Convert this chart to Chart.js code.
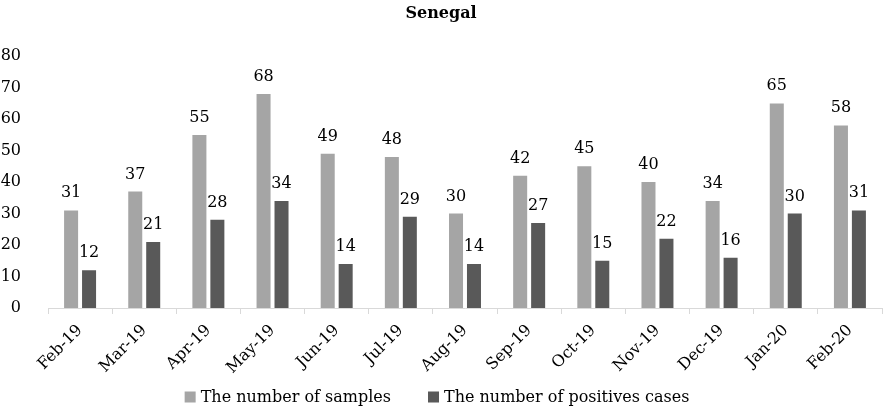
<!DOCTYPE html>
<html><head><meta charset="utf-8">
<script src="https://cdn.jsdelivr.net/npm/chart.js@4"></script>
<style>html,body{margin:0;padding:0;background:#fff}#w{width:883px;height:410px;position:relative}</style>
</head><body><div id="w"><canvas id="c"></canvas></div>
<script>
const categories = ["Feb-19","Mar-19","Apr-19","May-19","Jun-19","Jul-19","Aug-19","Sep-19","Oct-19","Nov-19","Dec-19","Jan-20","Feb-20"];
const samples = [31,37,55,68,49,48,30,42,45,40,34,65,58];
const positives = [12,21,28,34,14,29,14,27,15,22,16,30,31];
const seriesNames = ["The number of samples","The number of positives cases"];
const seriesColors = ['#a5a5a5','#595959'];
const yTicks = {min:0,max:80,step:10};
const FONT = "'DejaVu Serif', serif";

const labelPlugin = {
  id:'valLabels',
  afterDatasetsDraw(chart){
    const ctx = chart.ctx;
    ctx.save();
    ctx.font = "16px " + FONT;
    ctx.fillStyle = "#000";
    ctx.textAlign = "center";
    ctx.textBaseline = "alphabetic";
    chart.data.datasets.forEach((ds,i)=>{
      chart.getDatasetMeta(i).data.forEach((el,j)=>{
        ctx.fillText(String(ds.data[j]), el.x, el.y - 13);
      });
    });
    ctx.restore();
  }
};

const legendPlugin = {
  id:'customLegend',
  afterDraw(chart){
    const ctx = chart.ctx;
    ctx.save();
    ctx.font = "16px " + FONT;
    const box = 11, gapText = 5, gapItem = 37;
    const items = chart.data.datasets.map(ds=>({text:ds.label,color:ds.backgroundColor,w:box+gapText+ctx.measureText(ds.label).width}));
    const total = items.reduce((a,b)=>a+b.w,0) + gapItem*(items.length-1);
    let x = 437 - total/2;
    const cy = 397;
    ctx.textBaseline = "middle";
    ctx.textAlign = "left";
    items.forEach(it=>{
      ctx.fillStyle = it.color;
      ctx.fillRect(x, cy-box/2, box, box);
      ctx.fillStyle = "#000";
      ctx.fillText(it.text, x+box+gapText, cy+1);
      x += it.w + gapItem;
    });
    ctx.restore();
  }
};

new Chart(document.getElementById('c'),{
  type:'bar',
  data:{labels:categories,datasets:[
    {label:seriesNames[0],data:samples,backgroundColor:seriesColors[0],categoryPercentage:0.56,barPercentage:0.78},
    {label:seriesNames[1],data:positives,backgroundColor:seriesColors[1],categoryPercentage:0.56,barPercentage:0.78}
  ]},
  options:{
    responsive:true,maintainAspectRatio:false,animation:false,
    layout:{padding:{left:0,right:1,top:0,bottom:30}},
    plugins:{
      title:{display:true,text:'Senegal',color:'#000',font:{family:FONT,size:16,weight:'bold'},padding:{top:4,bottom:33}},
      legend:{display:false},
      tooltip:{enabled:false}
    },
    scales:{
      x:{
        afterFit(s){s.height=72;},
        grid:{drawOnChartArea:false,drawTicks:true,tickLength:6,color:'#d9d9d9'},
        border:{color:'#d9d9d9'},
        ticks:{color:'#000',font:{family:FONT,size:16},minRotation:45,maxRotation:45,padding:7}
      },
      y:{
        min:yTicks.min,max:yTicks.max,
        afterFit(s){s.width=48;},
        grid:{display:false},
        border:{display:false},
        ticks:{stepSize:yTicks.step,color:'#000',font:{family:FONT,size:16},padding:19}
      }
    }
  },
  plugins:[labelPlugin,legendPlugin]
});
</script></body></html>
